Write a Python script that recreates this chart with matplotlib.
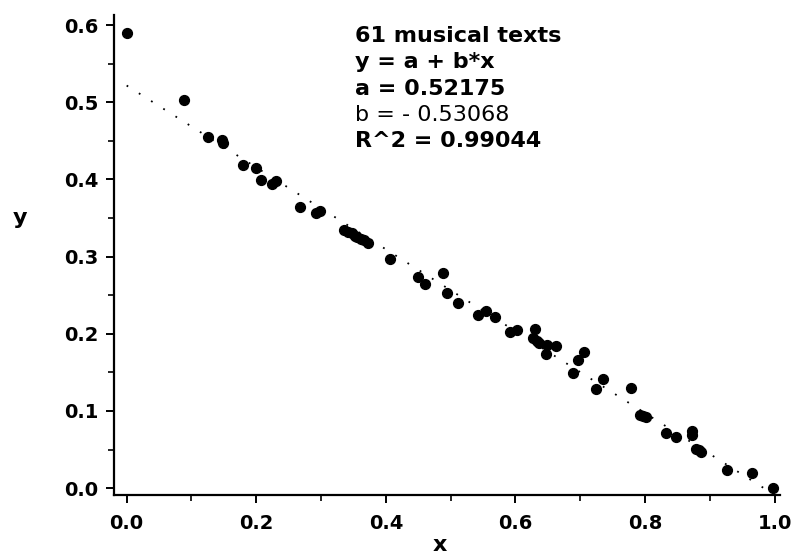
import matplotlib
matplotlib.use("Agg")
import matplotlib.pyplot as plt
import numpy as np
from matplotlib.ticker import MultipleLocator, FormatStrFormatter

# data
x = [0.000, 0.088, 0.125, 0.147, 0.148, 0.180, 0.199, 0.207, 0.225, 0.230,
     0.268, 0.292, 0.299, 0.336, 0.341, 0.347, 0.352, 0.356, 0.362, 0.366,
     0.373, 0.407, 0.449, 0.460, 0.488, 0.494, 0.511, 0.542, 0.554, 0.568,
     0.591, 0.602, 0.630, 0.627, 0.633, 0.637, 0.648, 0.662, 0.647, 0.705,
     0.696, 0.688, 0.735, 0.725, 0.778, 0.792, 0.797, 0.802, 0.833, 0.847,
     0.872, 0.873, 0.878, 0.883, 0.887, 0.927, 0.965, 0.998]
y = [0.590, 0.503, 0.455, 0.451, 0.447, 0.419, 0.415, 0.399, 0.394, 0.398,
     0.364, 0.356, 0.359, 0.334, 0.332, 0.330, 0.327, 0.326, 0.323, 0.322,
     0.318, 0.297, 0.274, 0.264, 0.279, 0.253, 0.240, 0.224, 0.229, 0.222,
     0.202, 0.205, 0.206, 0.194, 0.190, 0.188, 0.185, 0.184, 0.174, 0.176,
     0.166, 0.149, 0.141, 0.128, 0.130, 0.095, 0.094, 0.092, 0.071, 0.066,
     0.074, 0.069, 0.051, 0.049, 0.047, 0.023, 0.019, 0.000]

a = 0.52175
b = -0.53068
fit_x = [0.0, 1.0]
notes = ["61 musical texts", "y = a + b*x", "a = 0.52175",
         "b = - 0.53068", "R^2 = 0.99044"]
weights = ["bold", "bold", "bold", "normal", "bold"]

font = "DejaVu Sans"

fig = plt.figure(figsize=(7.95, 5.6), dpi=100)
ax = fig.add_axes([0.143, 0.116, 0.838, 0.857])

ax.scatter(x, y, s=50, color="black", zorder=3)
fx = np.array(fit_x)
ax.plot(fx, a + b * fx, color="black", linewidth=1.3,
        linestyle=(0, (1, 7)), zorder=2)

ax.set_xlim(-0.02, 1.008)
ax.set_ylim(-0.009, 0.613)
ax.spines["top"].set_visible(False)
ax.spines["right"].set_visible(False)
ax.spines["left"].set_linewidth(1.6)
ax.spines["bottom"].set_linewidth(1.6)

ax.xaxis.set_major_locator(MultipleLocator(0.2))
ax.xaxis.set_minor_locator(MultipleLocator(0.1))
ax.yaxis.set_major_locator(MultipleLocator(0.1))
ax.yaxis.set_minor_locator(MultipleLocator(0.05))
ax.xaxis.set_major_formatter(FormatStrFormatter("%.1f"))
ax.yaxis.set_major_formatter(FormatStrFormatter("%.1f"))
ax.tick_params(which="major", direction="out", length=6, width=1.4, pad=5)
ax.tick_params(which="minor", direction="out", length=4, width=1.2)
ax.tick_params(axis="x", which="major", pad=8)
for lab in ax.get_xticklabels() + ax.get_yticklabels():
    lab.set_family(font)
    lab.set_fontweight("bold")
    lab.set_fontsize(14)

ax.set_xlabel("x", family=font, fontweight="bold", fontsize=16,
              va="center")
ax.set_ylabel("y", family=font, fontweight="bold", fontsize=16,
              rotation=0, va="center", ha="center")
ax.yaxis.set_label_coords(-0.141, 0.577)
ax.xaxis.set_label_coords(0.49, -0.105)

for i, t in enumerate(notes):
    fig.text(355 / 795, 1 - (42 + i * 26.3) / 560, t, family=font,
             fontweight=weights[i], fontsize=16, va="baseline", ha="left")

fig.savefig("out.png", dpi=100)
